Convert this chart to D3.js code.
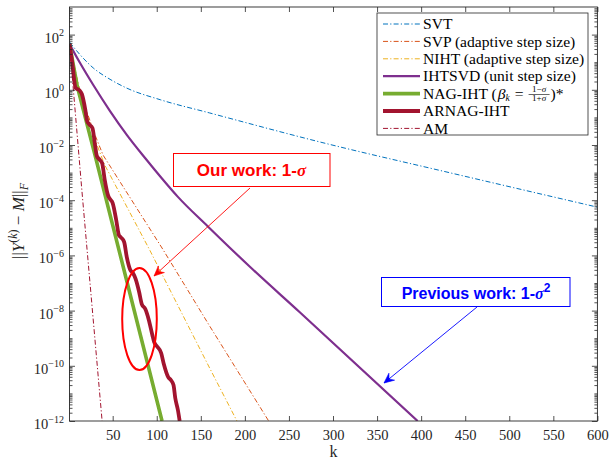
<!DOCTYPE html>
<html><head><meta charset="utf-8">
<script src="https://cdn.jsdelivr.net/npm/d3@7"></script>
<style>body{margin:0;background:#fff} svg{display:block}</style>
</head><body>
<svg id="c" width="610" height="462"></svg>
<script>
// ---------- data ----------
const xTickValues = [50,100,150,200,250,300,350,400,450,500,550,600];
const yTickExponents = [-12,-10,-8,-6,-4,-2,0,2];
const seriesNames = ["SVT","SVP (adaptive step size)","NIHT (adaptive step size)","IHTSVD (unit step size)","NAG-IHT","ARNAG-IHT","AM"];

const svtK = [1,13,28,47,66,104,160,285,433,600];
const svtV = [54,18.6,6.17,2.4,1.15,0.437,0.145,0.0129,9.8e-4,5.6e-5];

const svpK = [1,11,20,30,39,106,160,227];
const svpV = [45.6,1.49,0.185,0.023,4.35e-3,1.85e-6,2.77e-9,1e-12];

const nihtK = [1,11,20,30,41,92,160,191];
const nihtV = [45.6,1.49,0.157,0.0152,1.88e-3,1.57e-6,8.3e-11,1e-12];

const ihtK = [1,13,28,47,66,87,104,124,158,206,262,396];
const ihtV = [45.6,9.35,1.49,0.17,0.0234,3.31e-3,7.24e-4,1.32e-4,1.12e-5,3.8e-7,8.9e-9,1e-12];

const nagK = [1,10,30,68,106];
const nagV = [45.6,1.26,4.2e-3,6.6e-8,1e-12];

const arnagK = [1,4,8,12,15,19,21,23,27,30,32,34.5,38,41,45,47,50,54,57,59,63,66,70,73,76,80,83,87,91,95,97,100,105,108,113,116,119,121,124,126];
const arnagV = [45.6,10.2,1.16,0.98,0.705,0.185,0.0741,0.0577,0.0413,0.01,0.00399,0.00311,0.00223,5.4e-4,1.42e-4,1.10e-4,7.9e-5,1.92e-5,5.5e-6,4.6e-6,3.06e-6,8.7e-7,2.96e-7,2.30e-7,1.40e-7,4.7e-8,1.73e-8,1.14e-8,4.6e-9,1.31e-9,7.3e-10,5.2e-10,2.91e-10,1.16e-10,3.9e-11,3.06e-11,2.01e-11,6.8e-12,2.5e-12,1e-12];

const amK = [1,15,38];
const amV = [45.6,2.35e-4,1e-12];

// ---------- setup ----------
const svg = d3.select('#c');
const P = {left:69.5, right:597.4, top:7, bottom:421};
const x = d3.scaleLinear().domain([1,600]).range([P.left,P.right]);
const y = d3.scaleLog().domain([1e-12,1e3]).range([P.bottom,P.top]);
const SERIF = "'Liberation Serif','Times New Roman',serif";
const SANS = "'Liberation Sans',Arial,sans-serif";
const DD = "5,2.2,1.2,2.2";

svg.append('rect').attr('x',0).attr('y',0).attr('width',610).attr('height',462).attr('fill','#fff');
svg.append('defs').append('clipPath').attr('id','clip').append('rect')
  .attr('x',P.left).attr('y',P.top).attr('width',P.right-P.left).attr('height',P.bottom-P.top);

const series = [
  {k:svtK, v:svtV, color:'#0072BD', w:1, dash:DD, curve:d3.curveMonotoneX},
  {k:svpK, v:svpV, color:'#D95319', w:1, dash:DD, curve:d3.curveLinear},
  {k:nihtK, v:nihtV, color:'#EDB120', w:1, dash:DD, curve:d3.curveLinear},
  {k:ihtK, v:ihtV, color:'#7E2F8E', w:2.2, dash:null, curve:d3.curveMonotoneX},
  {k:nagK, v:nagV, color:'#77AC30', w:3.6, dash:null, curve:d3.curveLinear},
  {k:arnagK, v:arnagV, color:'#A2142F', w:3.8, dash:null, curve:d3.curveMonotoneX},
  {k:amK, v:amV, color:'#A2142F', w:1, dash:DD, curve:d3.curveLinear}
];

const plot = svg.append('g').attr('clip-path','url(#clip)');
series.forEach(s => {
  const pts = s.k.map((k,i)=>[k,s.v[i]]);
  const line = d3.line().x(d=>x(d[0])).y(d=>y(d[1])).curve(s.curve);
  plot.append('path').attr('d',line(pts)).attr('fill','none')
    .attr('stroke',s.color).attr('stroke-width',s.w)
    .attr('stroke-dasharray',s.dash).attr('stroke-linejoin','round');
});

// ---------- axes ----------
const axisColor = '#262626';
const minorVals = [];
for (let n=-12;n<=2;n++) for (let j=1;j<=9;j++){
  if (j===1 && n%2===0) continue;
  minorVals.push(j*Math.pow(10,n));
}
const majorVals = yTickExponents.map(e=>Math.pow(10,e));

function styleAxis(g){
  g.select('.domain').remove();
  g.selectAll('line').attr('stroke',axisColor).attr('stroke-width',0.8);
  g.selectAll('text').attr('fill','#262626').attr('font-family',SERIF).attr('font-size',14.5);
}
svg.append('g').attr('transform',`translate(0,${P.bottom})`)
  .call(d3.axisBottom(x).tickValues(xTickValues).tickSizeInner(-5).tickSizeOuter(0).tickPadding(9).tickFormat(d3.format('d')))
  .call(styleAxis);
svg.append('g').attr('transform',`translate(0,${P.top})`)
  .call(d3.axisTop(x).tickValues(xTickValues).tickSizeInner(-5).tickSizeOuter(0).tickFormat(''))
  .call(styleAxis);
[[d3.axisLeft,P.left],[d3.axisRight,P.right]].forEach(([ax,pos])=>{
  svg.append('g').attr('transform',`translate(${pos},0)`)
    .call(ax(y).tickValues(minorVals).tickSizeInner(-3).tickSizeOuter(0).tickFormat(''))
    .call(styleAxis);
  svg.append('g').attr('transform',`translate(${pos},0)`)
    .call(ax(y).tickValues(majorVals).tickSizeInner(-5.5).tickSizeOuter(0).tickFormat(''))
    .call(styleAxis);
});
// y tick labels with superscripts
const yl = svg.append('g').attr('font-family',SERIF).attr('fill','#262626');
yTickExponents.forEach(e=>{
  const t = yl.append('text').attr('x',64).attr('y',y(Math.pow(10,e))+8).attr('text-anchor','end').attr('font-size',14.5);
  t.append('tspan').text('10');
  t.append('tspan').attr('dy',-6.5).attr('font-size',10).text(e<0?'\u2212'+(-e):String(e));
});
// box
svg.append('rect').attr('x',P.left).attr('y',P.top).attr('width',P.right-P.left).attr('height',P.bottom-P.top)
  .attr('fill','none').attr('stroke',axisColor).attr('stroke-width',0.9);

// axis labels
svg.append('text').attr('x',(P.left+P.right)/2).attr('y',457).attr('text-anchor','middle')
  .attr('font-family',SERIF).attr('font-size',16).attr('fill','#262626').text('k');
const ylab = svg.append('text').attr('transform','translate(24,221) rotate(-90)').attr('text-anchor','middle')
  .attr('font-family',SERIF).attr('font-size',17).attr('fill','#262626');
ylab.append('tspan').text('||');
ylab.append('tspan').attr('font-style','italic').text('Y');
ylab.append('tspan').attr('font-size',12).attr('dy',-7).text('(');
ylab.append('tspan').attr('font-size',12).attr('font-style','italic').text('k');
ylab.append('tspan').attr('font-size',12).text(')');
ylab.append('tspan').attr('dy',7).text(' \u2212 ');
ylab.append('tspan').attr('font-style','italic').text('M');
ylab.append('tspan').text('||');
ylab.append('tspan').attr('font-size',12).attr('font-style','italic').attr('dy',4).text('F');

// ---------- legend ----------
const L = {x0:377,y0:13,x1:588,y1:135};
const LF = 15.6;
const lg = svg.append('g');
lg.append('rect').attr('x',L.x0).attr('y',L.y0).attr('width',L.x1-L.x0).attr('height',L.y1-L.y0)
  .attr('fill','#fff').attr('stroke',axisColor).attr('stroke-width',0.8);
series.forEach((s,i)=>{
  const cy = 24 + i*17.4;
  lg.append('line').attr('x1',383).attr('x2',420).attr('y1',cy).attr('y2',cy)
    .attr('stroke',s.color).attr('stroke-width',s.w).attr('stroke-dasharray',s.dash);
  if (i!==4){
    lg.append('text').attr('x',423).attr('y',cy+5.2).attr('font-family',SERIF).attr('font-size',LF)
      .attr('fill','#000').text(seriesNames[i]);
  } else {
    let cx = 423;
    const t1 = lg.append('text').attr('x',cx).attr('y',cy+5.2).attr('font-family',SERIF).attr('font-size',LF).text(seriesNames[i]+' (');
    cx += t1.node().getComputedTextLength()+1;
    const t2 = lg.append('text').attr('x',cx).attr('y',cy+5.2).attr('font-family',SERIF).attr('font-size',LF);
    t2.append('tspan').attr('font-style','italic').text('\u03B2');
    t2.append('tspan').attr('font-style','italic').attr('font-size',9.5).attr('dy',2).text('k');
    cx += t2.node().getComputedTextLength()+5;
    const t3 = lg.append('text').attr('x',cx).attr('y',cy+5.2).attr('font-family',SERIF).attr('font-size',LF).text('=');
    cx += t3.node().getComputedTextLength()+5;
    const num = lg.append('text').attr('x',cx+10.5).attr('y',cy-1.2).attr('text-anchor','middle').attr('font-family',SERIF).attr('font-size',9);
    num.append('tspan').text('1\u2212');
    num.append('tspan').attr('font-style','italic').text('\u03C3');
    const den = lg.append('text').attr('x',cx+10.5).attr('y',cy+7.8).attr('text-anchor','middle').attr('font-family',SERIF).attr('font-size',9);
    den.append('tspan').text('1+');
    den.append('tspan').attr('font-style','italic').text('\u03C3');
    lg.append('line').attr('x1',cx).attr('x2',cx+21).attr('y1',cy+0.9).attr('y2',cy+0.9).attr('stroke','#000').attr('stroke-width',0.6);
    cx += 22;
    lg.append('text').attr('x',cx).attr('y',cy+5.2).attr('font-family',SERIF).attr('font-size',LF).text(')*');
  }
});

// ---------- annotations ----------
function arrow(x1,y1,x2,y2,color){
  svg.append('line').attr('x1',x1).attr('y1',y1).attr('x2',x2).attr('y2',y2).attr('stroke',color).attr('stroke-width',0.9);
  const a = Math.atan2(y2-y1,x2-x1);
  const hl=10, hw=4.5, notch=6.5;
  const pt=(d,o)=>[x2 - d*Math.cos(a) - o*Math.sin(a), y2 - d*Math.sin(a) + o*Math.cos(a)];
  const p = [[x2,y2],pt(hl,hw),pt(notch,0),pt(hl,-hw)];
  svg.append('path').attr('d','M'+p.map(q=>q.join(',')).join('L')+'Z').attr('fill',color).attr('stroke',color).attr('stroke-width',0.6);
}
// ellipse
svg.append('ellipse').attr('cx',139.5).attr('cy',319).attr('rx',17.3).attr('ry',51)
  .attr('fill','none').attr('stroke','#FF0000').attr('stroke-width',2);
arrow(250,188,154,276,'#FF0000');
arrow(477,307,384,383,'#0000FF');

// boxes
svg.append('rect').attr('x',173.5).attr('y',153.5).attr('width',156.5).attr('height',33)
  .attr('fill','#fff').attr('stroke','#FF0000').attr('stroke-width',1);
const ow = svg.append('text').attr('x',251.5).attr('y',176).attr('text-anchor','middle')
  .attr('font-family',SANS).attr('font-weight','bold').attr('font-size',17).attr('fill','#FF0000');
ow.append('tspan').text('Our work: 1-');
ow.append('tspan').attr('font-family',SERIF).attr('font-style','italic').text('\u03C3');

svg.append('rect').attr('x',381.5).attr('y',277.5).attr('width',188.5).attr('height',29)
  .attr('fill','#fff').attr('stroke','#0000FF').attr('stroke-width',1);
const pw = svg.append('text').attr('x',476).attr('y',299).attr('text-anchor','middle')
  .attr('font-family',SANS).attr('font-weight','bold').attr('font-size',16).attr('fill','#0000FF');
pw.append('tspan').text('Previous work: 1-');
pw.append('tspan').attr('font-family',SERIF).attr('font-style','italic').text('\u03C3');
pw.append('tspan').attr('font-size',12).attr('dy',-7).text('2');
</script>
</body></html>
